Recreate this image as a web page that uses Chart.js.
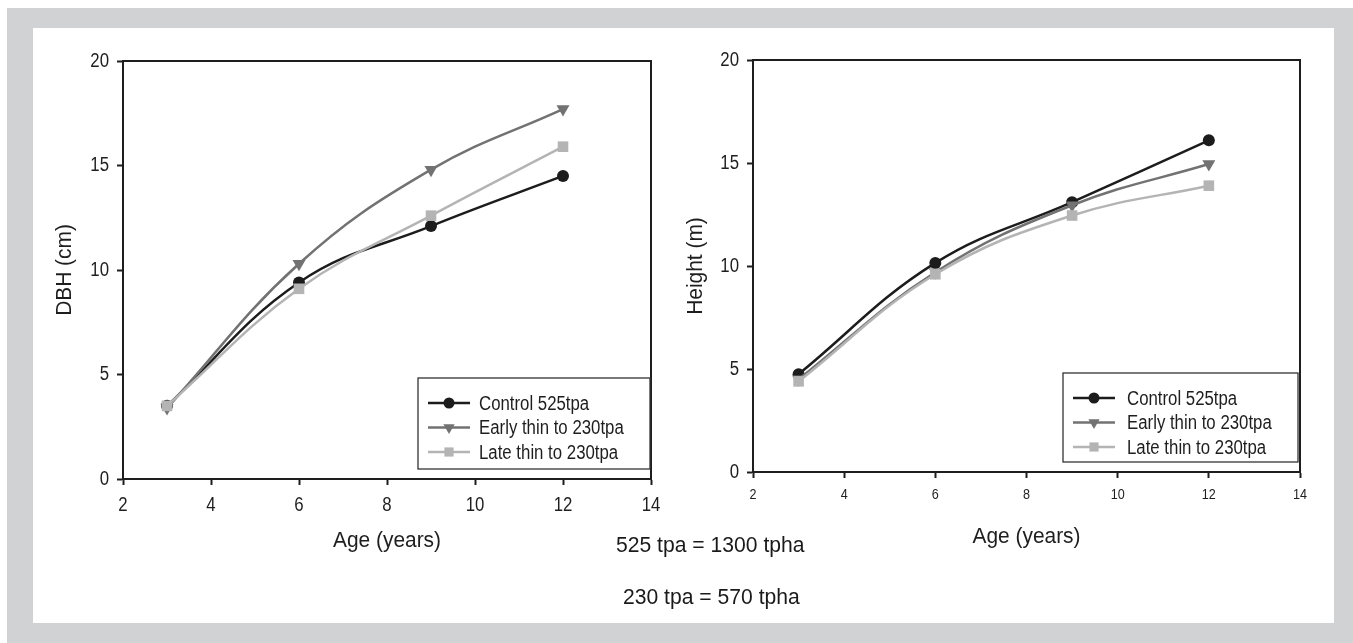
<!DOCTYPE html>
<html>
<head>
<meta charset="utf-8">
<script src="https://cdn.jsdelivr.net/npm/chart.js@4"></script>
<style>
    body { margin: 0; width: 1353px; height: 643px; background: #ffffff; position: relative; overflow: hidden;
           font-family: "Liberation Sans", Arial, sans-serif; }
    #frame { position: absolute; left: 7px; top: 8px; right: 0; bottom: 0; background: #d1d2d4; }
    #panel { position: absolute; left: 33px; top: 28px; width: 1301px; height: 595px; background: #ffffff; }
    .chart { position: absolute; }
    .note { position: absolute; font-size: 22px; line-height: 26px; color: #1a1a1a; white-space: nowrap;
            transform: scaleX(0.96); transform-origin: left center; }
</style>
</head>
<body>
<div id="frame"></div>
<div id="panel"></div>
<canvas id="dbhChart" class="chart" width="667" height="595" style="left:33px; top:28px;"></canvas>
<canvas id="heightChart" class="chart" width="694" height="595" style="left:640px; top:28px;"></canvas>
<div class="note" style="left:616px; top:532px;">525 tpa = 1300 tpha</div>
<div class="note" style="left:623px; top:584px;">230 tpa = 570 tpha</div>

<script>
// 데이터
const ages = [3, 6, 9, 12];
const seriesNames = ['Control 525tpa', 'Early thin to 230tpa', 'Late thin to 230tpa'];

const dbhControl = [3.5, 9.4, 12.1, 14.5];
const dbhEarly = [3.4, 10.3, 14.8, 17.7];
const dbhLate = [3.5, 9.1, 12.6, 15.9];

const heightControl = [4.75, 10.15, 13.1, 16.1];
const heightEarly = [4.5, 9.7, 12.95, 14.95];
const heightLate = [4.4, 9.6, 12.45, 13.9];

const FONT = '"Liberation Sans", Arial, sans-serif';
const INK = '#1e1e1e';

// 시리즈 스타일
const styles = [
    { color: '#1c1c1c', pointStyle: 'circle', radius: 6, rotation: 0, order: 3 },
    { color: '#727272', pointStyle: 'triangle', radius: 7.5, rotation: 180, order: 2 },
    { color: '#b4b4b4', pointStyle: 'rect', radius: 7.5, rotation: 0, order: 1 }
];

function makeDatasets(valueLists) {
    return valueLists.map((values, i) => ({
        label: seriesNames[i],
        data: ages.map((a, j) => ({ x: a, y: values[j] })),
        borderColor: styles[i].color,
        backgroundColor: styles[i].color,
        borderWidth: 2.5,
        pointStyle: styles[i].pointStyle,
        pointRadius: styles[i].radius,
        pointRotation: styles[i].rotation,
        pointBorderWidth: 0,
        tension: 0.4,
        order: styles[i].order
    }));
}

// 원본 글꼴이 좁은 글꼴이라 글자를 가로로 살짝 압축
function squeezeFor(font) {
    const size = parseFloat(/([\d.]+)px/.exec(font)[1]);
    return size >= 21 ? 0.95 : 0.84;
}

const squeezePlugin = {
    id: 'squeeze',
    beforeInit(chart) {
        const ctx = chart.ctx;
        const fill = ctx.fillText.bind(ctx);
        ctx.fillText = function(text, x, y) {
            const k = squeezeFor(ctx.font);
            ctx.save();
            ctx.translate(x, y);
            ctx.scale(k, 1);
            fill(text, 0, 0);
            ctx.restore();
        };
    }
};

// 차트 테두리
const framePlugin = {
    id: 'frame',
    afterDatasetsDraw(chart) {
        const { ctx, chartArea: a } = chart;
        ctx.save();
        ctx.strokeStyle = INK;
        ctx.lineWidth = 2;
        ctx.strokeRect(a.left, a.top, a.right - a.left, a.bottom - a.top);
        ctx.restore();
    }
};

// 범례 (차트 안쪽 오른쪽 아래)
const boxLegend = {
    id: 'boxLegend',
    afterDraw(chart, args, opts) {
        const { ctx, chartArea: a } = chart;
        const right = a.right - opts.rightGap;
        const bottom = a.bottom - 10;
        const left = right - opts.width;
        const top = bottom - opts.height;
        ctx.save();
        ctx.fillStyle = '#ffffff';
        ctx.fillRect(left, top, opts.width, opts.height);
        ctx.strokeStyle = '#333333';
        ctx.lineWidth = 1.3;
        ctx.strokeRect(left, top, opts.width, opts.height);
        ctx.font = '20px ' + FONT;
        ctx.textBaseline = 'middle';
        chart.data.datasets.forEach((ds, i) => {
            const y = top + 25 + i * 24.5;
            ctx.strokeStyle = ds.borderColor;
            ctx.lineWidth = 2.5;
            ctx.beginPath();
            ctx.moveTo(left + 10, y);
            ctx.lineTo(left + 52, y);
            ctx.stroke();
            ctx.fillStyle = ds.backgroundColor;
            Chart.helpers.drawPoint(ctx, {
                pointStyle: ds.pointStyle,
                rotation: ds.pointRotation,
                radius: ds.pointStyle === 'circle' ? 5.5 : 6.5,
                borderWidth: 0
            }, left + 31, y);
            ctx.fillStyle = INK;
            ctx.fillText(ds.label, left + opts.textOffset, y + 1);
        });
        ctx.restore();
    }
};

function createChart(canvasId, valueLists, cfg) {
    const ctx = document.getElementById(canvasId);
    return new Chart(ctx, {
        type: 'line',
        data: { datasets: makeDatasets(valueLists) },
        options: {
            responsive: false,
            animation: false,
            events: [],
            layout: { padding: { top: cfg.padTop, right: cfg.padRight, left: 0, bottom: 0 } },
            plugins: {
                legend: { display: false },
                tooltip: { enabled: false },
                boxLegend: cfg.legend
            },
            scales: {
                x: {
                    type: 'linear',
                    min: 2,
                    max: 14,
                    ticks: {
                        stepSize: 2,
                        autoSkip: false,
                        maxRotation: 0,
                        padding: cfg.xTickPad,
                        color: INK,
                        font: { family: FONT, size: cfg.xTickSize }
                    },
                    grid: {
                        drawOnChartArea: false,
                        drawTicks: true,
                        tickLength: 6,
                        tickWidth: 2,
                        tickColor: INK
                    },
                    border: { display: true, color: INK, width: 2 },
                    title: {
                        display: true,
                        text: 'Age (years)',
                        color: INK,
                        font: { family: FONT, size: 22 },
                        padding: { top: 0, bottom: cfg.xTitlePad }
                    },
                    afterFit(scale) { scale.height = cfg.xHeight; }
                },
                y: {
                    type: 'linear',
                    min: 0,
                    max: 20,
                    ticks: {
                        stepSize: 5,
                        padding: 8,
                        color: INK,
                        font: { family: FONT, size: 20 }
                    },
                    grid: {
                        drawOnChartArea: false,
                        drawTicks: true,
                        tickLength: 6,
                        tickWidth: 2,
                        tickColor: INK
                    },
                    border: { display: true, color: INK, width: 2 },
                    title: {
                        display: true,
                        text: cfg.yTitle,
                        color: INK,
                        font: { family: FONT, size: 22 },
                        padding: { top: cfg.yTitlePad, bottom: 0 }
                    },
                    afterFit(scale) { scale.width = cfg.yWidth; }
                }
            }
        },
        plugins: [squeezePlugin, framePlugin, boxLegend]
    });
}

createChart('dbhChart', [dbhControl, dbhEarly, dbhLate], {
    yTitle: 'DBH (cm)',
    padTop: 33, padRight: 49,
    yWidth: 90, xHeight: 144,
    xTickSize: 20, xTickPad: 8,
    xTitlePad: 69, yTitlePad: 19,
    legend: { width: 232, height: 91, rightGap: 1, textOffset: 61 }
});

createChart('heightChart', [heightControl, heightEarly, heightLate], {
    yTitle: 'Height (m)',
    padTop: 32, padRight: 34,
    yWidth: 113, xHeight: 151,
    xTickSize: 15, xTickPad: 8,
    xTitlePad: 73, yTitlePad: 43,
    legend: { width: 235, height: 89, rightGap: 2, textOffset: 64 }
});
</script>
</body>
</html>
